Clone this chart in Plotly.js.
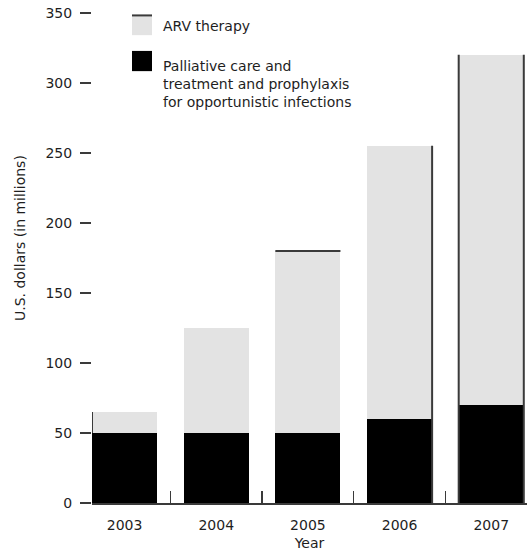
<!DOCTYPE html>
<html>
<head>
<meta charset="utf-8">
<script src="https://cdn.plot.ly/plotly-3.0.1.min.js"></script>
<style>
  html, body { margin: 0; padding: 0; background: #fff; }
  #chart { width: 528px; height: 557px; }
</style>
</head>
<body>
<div id="chart"></div>
<script>
// ---- data ----
var years = ["2003", "2004", "2005", "2006", "2007"];
var palliative = [50, 50, 50, 60, 70];
var arvTherapy = [15, 75, 130, 195, 250];
var seriesNames = ["ARV therapy", "Palliative care and<br>treatment and prophylaxis<br>for opportunistic infections"];
var yTickVals = [0, 50, 100, 150, 200, 250, 300, 350];
var xTitle = "Year";
var yTitle = "U.S. dollars (in millions)";

// ---- style ----
var FONT = "DejaVu Sans, Verdana, sans-serif";
var FS = 14;
var TXT = "#1e1e1e";
var LINE = "#3a3a3a";
var ARV_FILL = "#e3e3e3";
var barWidth = 0.71;

var traces = [
  {
    type: "bar", x: years, y: palliative, name: "Palliative",
    marker: { color: "#000000", line: { width: 0 } },
    width: barWidth, hoverinfo: "skip", showlegend: false
  },
  {
    type: "bar", x: years, y: arvTherapy, name: "ARV",
    marker: { color: ARV_FILL, line: { width: 0 } },
    width: barWidth, hoverinfo: "skip", showlegend: false
  }
];

// dark edge strokes seen on some bars (derived from the data)
var shapes = [];
var totals = palliative.map(function (p, i) { return p + arvTherapy[i]; });
var edgeSpec = [["left-arv"], [], ["top"], ["right"], ["left", "right"]];
edgeSpec.forEach(function (sides, i) {
  sides.forEach(function (s) {
    var xl = i - barWidth / 2, xr = i + barWidth / 2;
    var ln = { color: LINE, width: 2 };
    if (s === "left-arv") shapes.push({ type: "line", xref: "x", yref: "y", x0: xl, x1: xl, y0: palliative[i], y1: totals[i], line: ln });
    if (s === "top") shapes.push({ type: "line", xref: "x", yref: "y", x0: xl, x1: xr, y0: totals[i], y1: totals[i], line: ln });
    if (s === "right") shapes.push({ type: "line", xref: "x", yref: "y", x0: xr, x1: xr, y0: 0, y1: totals[i], line: ln });
    if (s === "left") shapes.push({ type: "line", xref: "x", yref: "y", x0: xl, x1: xl, y0: 0, y1: totals[i], line: ln });
  });
});

// legend swatches (paper coords)
shapes.push({ type: "rect", xref: "paper", yref: "paper", x0: 0.092, x1: 0.138, y0: 0.949, y1: 0.990, fillcolor: ARV_FILL, line: { width: 0 } });
shapes.push({ type: "line", xref: "paper", yref: "paper", x0: 0.092, x1: 0.138, y0: 0.989, y1: 0.989, line: { color: LINE, width: 2 } });
shapes.push({ type: "rect", xref: "paper", yref: "paper", x0: 0.092, x1: 0.138, y0: 0.876, y1: 0.917, fillcolor: "#000", line: { width: 0 } });

var annotations = [
  { xref: "paper", yref: "paper", x: 0.159, y: 0.9675, xanchor: "left", yanchor: "middle",
    text: seriesNames[0], showarrow: false, align: "left", font: { family: FONT, size: FS, color: TXT } },
  { xref: "paper", yref: "paper", x: 0.159, y: 0.850, xanchor: "left", yanchor: "middle",
    text: seriesNames[1], showarrow: false, align: "left", font: { family: FONT, size: FS, color: TXT } },
  { xref: "paper", yref: "paper", x: -0.1655, y: 0.5375, xanchor: "center", yanchor: "middle",
    text: yTitle, textangle: -90, showarrow: false, font: { family: FONT, size: FS, color: TXT } }
];

var layout = {
  width: 528, height: 557,
  margin: { l: 92, r: 1, t: 10, b: 54 },
  paper_bgcolor: "#fff", plot_bgcolor: "#fff",
  barmode: "stack",
  font: { family: FONT, size: FS, color: TXT },
  xaxis: {
    type: "category",
    range: [-0.355, 4.39],
    tickson: "boundaries",
    ticks: "inside", ticklen: 12, tickwidth: 1.5, tickcolor: LINE,
    showline: true, linecolor: LINE, linewidth: 1.5,
    showgrid: false, zeroline: false,
    ticklabelstandoff: 9,
    tickfont: { family: FONT, size: FS, color: TXT },
    title: { text: xTitle, font: { family: FONT, size: FS, color: TXT }, standoff: 6 }
  },
  yaxis: {
    range: [0, 352],
    tickvals: yTickVals,
    ticks: "outside", ticklen: 11, tickwidth: 1.5, tickcolor: LINE,
    showline: false, showgrid: false, zeroline: false,
    ticklabelstandoff: 5,
    tickfont: { family: FONT, size: FS, color: TXT }
  },
  shapes: shapes,
  annotations: annotations,
  showlegend: false
};

Plotly.newPlot("chart", traces, layout, { displayModeBar: false, staticPlot: true });
</script>
</body>
</html>
